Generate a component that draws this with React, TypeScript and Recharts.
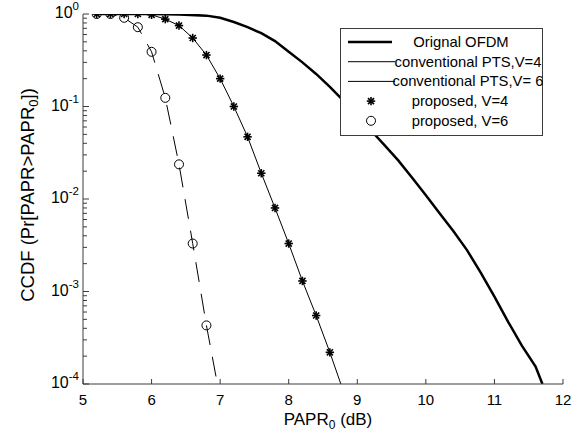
import { ComposedChart, Line, XAxis, YAxis } from "recharts"

// PAPR (dB) on x, CCDF on y
const ofdmX = [5.2, 6.0, 6.4, 6.8, 7.0, 7.2, 7.4, 7.6, 7.8, 8.0, 8.2, 8.4, 8.6, 8.8, 9.0, 9.2, 9.4, 9.6, 9.8, 10.0, 10.2, 10.4, 10.6, 10.8, 11.0, 11.2, 11.4, 11.6, 11.7]
const ofdmY = [1, 1, 0.99, 0.96, 0.91, 0.82, 0.72, 0.62, 0.51, 0.39, 0.3, 0.225, 0.163, 0.115, 0.078, 0.055, 0.038, 0.026, 0.017, 0.011, 0.007, 0.0045, 0.0028, 0.0016, 0.00088, 0.00047, 0.00026, 0.000154, 0.0001]

const v4X = [5.2, 5.4, 5.6, 5.8, 6.0, 6.2, 6.4, 6.6, 6.8, 7.0, 7.2, 7.4, 7.6, 7.8, 8.0, 8.2, 8.4, 8.6]
const v4Y = [1, 1, 1, 1, 0.98, 0.88, 0.75, 0.55, 0.36, 0.2, 0.1, 0.047, 0.019, 0.008, 0.0033, 0.0013, 0.00055, 0.00022]
const v4EndX = 8.76

const v6X = [5.2, 5.4, 5.6, 5.8, 6.0, 6.2, 6.4, 6.6, 6.8]
const v6Y = [1, 1, 0.91, 0.72, 0.39, 0.124, 0.0237, 0.0033, 0.00043]
const v6EndX = 6.96

const yMin = 0.0001
const xTicks = [5, 6, 7, 8, 9, 10, 11, 12]
const decades = [0.0001, 0.001, 0.01, 0.1]
const mantissas = [1, 2, 3, 4, 5, 6, 7, 8, 9]
const yTicks = [...decades.flatMap((d) => mantissas.map((m) => d * m)), 1]

const toPoints = (xs: number[], ys: number[]) => xs.map((x, i) => ({ x, y: ys[i] }))

const ofdm = toPoints(ofdmX, ofdmY)
const prop4 = toPoints(v4X, v4Y)
const prop6 = toPoints(v6X, v6Y)
const conv4 = [...prop4, { x: v4EndX, y: yMin }]
const conv6 = [...prop6, { x: v6EndX, y: yMin }]

const AXIS = "#3c3c3c"
const FONT = "'Liberation Sans', Arial, sans-serif"

const isMajor = (v: number) => {
  const lg = Math.log10(v)
  return Math.abs(lg - Math.round(lg)) < 1e-6
}

const LeftTick = ({ x, y, payload }: any) => {
  const v = payload.value
  const major = isMajor(v)
  return (
    <g>
      <line x1={x} x2={x + (major ? 6 : 4)} y1={y} y2={y} stroke={AXIS} />
      {major ? (
        <text x={x - 4} y={y + 4} textAnchor="end" fontSize={16} fontFamily={FONT} fill="#000">
          <tspan>10</tspan>
          <tspan dy={-8} fontSize={11.5}>{Math.round(Math.log10(v))}</tspan>
        </text>
      ) : null}
    </g>
  )
}

const RightTick = ({ x, y, payload }: any) => {
  const major = isMajor(payload.value)
  return <line x1={x} x2={x - (major ? 6 : 4)} y1={y} y2={y} stroke={AXIS} />
}

const BottomTick = ({ x, y, payload }: any) => (
  <g>
    <line x1={x} x2={x} y1={y} y2={y - 5} stroke={AXIS} />
    <text x={x} y={y + 21} textAnchor="middle" fontSize={15} fontFamily={FONT} fill="#000">
      {payload.value}
    </text>
  </g>
)

const TopTick = ({ x, y }: any) => <line x1={x} x2={x} y1={y} y2={y + 5} stroke={AXIS} />

const XLabel = () => (
  <text x={328} y={425} textAnchor="middle" fontSize={17} fontFamily={FONT} fill="#000">
    <tspan>PAPR</tspan>
    <tspan dy={4} fontSize={12}>0</tspan>
    <tspan dy={-4}> (dB)</tspan>
  </text>
)

const YLabel = () => (
  <text
    x={34}
    y={195}
    transform="rotate(-90, 34, 195)"
    textAnchor="middle"
    fontSize={18.5}
    fontFamily={FONT}
    fill="#000"
  >
    <tspan>CCDF (Pr[PAPR&gt;PAPR</tspan>
    <tspan dy={4} fontSize={13}>0</tspan>
    <tspan dy={-4}>])</tspan>
  </text>
)

const Star = ({ cx, cy }: any) => {
  if (cx == null || cy == null) return <g />
  const r = 4.2
  const d = r * 0.72
  return (
    <g stroke="#000" strokeWidth={1.6}>
      <line x1={cx - r} x2={cx + r} y1={cy} y2={cy} />
      <line x1={cx} x2={cx} y1={cy - r} y2={cy + r} />
      <line x1={cx - d} x2={cx + d} y1={cy - d} y2={cy + d} />
      <line x1={cx - d} x2={cx + d} y1={cy + d} y2={cy - d} />
    </g>
  )
}

const Ring = ({ cx, cy }: any) => {
  if (cx == null || cy == null) return <g />
  return <circle cx={cx} cy={cy} r={4.5} fill="none" stroke="#000" strokeWidth={1} />
}

const legendRows = [
  { label: "Orignal OFDM", kind: "thick", tx: 121 },
  { label: "conventional PTS,V=4", kind: "thin", tx: 128 },
  { label: "conventional PTS,V= 6", kind: "thin", tx: 128 },
  { label: "proposed, V=4", kind: "star", tx: 120 },
  { label: "proposed, V=6", kind: "ring", tx: 120 },
]

function LegendBox() {
  return (
    <svg
      width={203}
      height={108}
      style={{ position: "absolute", left: 340, top: 28, background: "#fff" }}
    >
      <rect x={0.5} y={0.5} width={202} height={107} fill="#fff" stroke={AXIS} />
      {legendRows.map((row, i) => {
        const cy = 14 + i * 19.7
        return (
          <g key={row.label}>
            {row.kind === "thick" ? (
              <line x1={8} x2={52} y1={cy} y2={cy} stroke="#000" strokeWidth={2.5} />
            ) : null}
            {row.kind === "thin" ? (
              <line x1={8} x2={55} y1={cy} y2={cy} stroke="#000" strokeWidth={1} />
            ) : null}
            {row.kind === "star" ? <Star cx={31} cy={cy} /> : null}
            {row.kind === "ring" ? <Ring cx={31} cy={cy} /> : null}
            <text x={row.tx} y={cy + 5} textAnchor="middle" fontSize={14.8} fontFamily={FONT} fill="#000">
              {row.label}
            </text>
          </g>
        )
      })}
    </svg>
  )
}

export default function App() {
  return (
    <div style={{ position: "absolute", left: 0, top: 0, width: 587, height: 438, background: "#fff" }}>
      <ComposedChart width={587} height={438} margin={{ top: 14, right: 24, bottom: 0, left: 0 }}>
        <XAxis
          xAxisId="b"
          dataKey="x"
          type="number"
          domain={[5, 12]}
          ticks={xTicks}
          allowDataOverflow
          height={54}
          tickSize={0}
          tickMargin={0}
          tickLine={false}
          axisLine={{ stroke: AXIS }}
          tick={BottomTick}
          label={<XLabel />}
        />
        <XAxis
          xAxisId="t"
          orientation="top"
          type="number"
          domain={[5, 12]}
          ticks={xTicks}
          allowDataOverflow
          height={0}
          tickSize={0}
          tickMargin={0}
          tickLine={false}
          axisLine={{ stroke: AXIS }}
          tick={TopTick}
        />
        <YAxis
          yAxisId="l"
          dataKey="y"
          scale="log"
          type="number"
          domain={[yMin, 1]}
          ticks={yTicks}
          allowDataOverflow
          width={83}
          tickSize={0}
          tickMargin={0}
          tickLine={false}
          axisLine={{ stroke: AXIS }}
          tick={LeftTick}
          interval={0}
          label={<YLabel />}
        />
        <YAxis
          yAxisId="r"
          orientation="right"
          scale="log"
          type="number"
          domain={[yMin, 1]}
          ticks={yTicks}
          allowDataOverflow
          width={0}
          tickSize={0}
          tickMargin={0}
          tickLine={false}
          axisLine={{ stroke: AXIS }}
          tick={RightTick}
          interval={0}
        />
        <Line
          data={ofdm}
          xAxisId="b"
          yAxisId="l"
          dataKey="y"
          type="linear"
          stroke="#000"
          strokeWidth={2.5}
          dot={false}
          activeDot={false}
          isAnimationActive={false}
        />
        <Line
          data={conv4}
          xAxisId="b"
          yAxisId="l"
          dataKey="y"
          type="linear"
          stroke="#000"
          strokeWidth={1}
          dot={false}
          activeDot={false}
          isAnimationActive={false}
        />
        <Line
          data={conv6}
          xAxisId="b"
          yAxisId="l"
          dataKey="y"
          type="linear"
          stroke="#000"
          strokeWidth={1}
          strokeDasharray="20 12"
          dot={false}
          activeDot={false}
          isAnimationActive={false}
        />
        <Line
          data={prop4}
          xAxisId="b"
          yAxisId="l"
          dataKey="y"
          stroke="none"
          dot={(p: any) => <Star key={`s${p.index}`} cx={p.cx} cy={p.cy} />}
          activeDot={false}
          isAnimationActive={false}
        />
        <Line
          data={prop6}
          xAxisId="b"
          yAxisId="l"
          dataKey="y"
          stroke="none"
          dot={(p: any) => <Ring key={`c${p.index}`} cx={p.cx} cy={p.cy} />}
          activeDot={false}
          isAnimationActive={false}
        />
      </ComposedChart>
      <LegendBox />
    </div>
  )
}
